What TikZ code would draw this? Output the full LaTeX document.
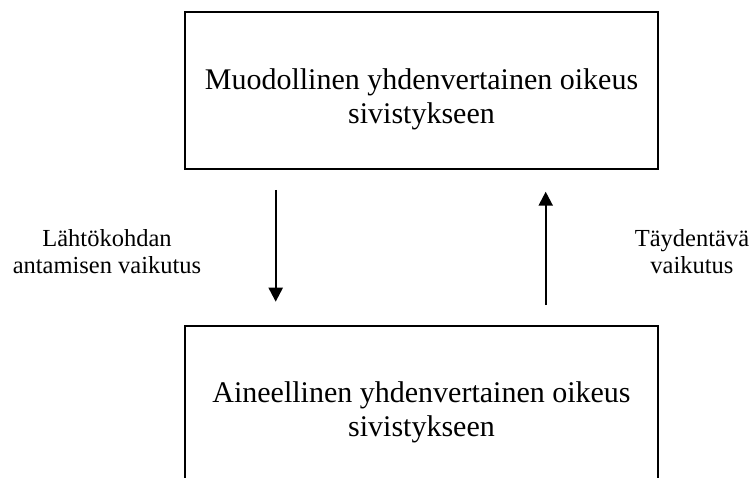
\documentclass[tikz,border=0pt]{standalone}
\usepackage{fontspec}
\setmainfont{Liberation Serif}
\usetikzlibrary{arrows.meta}
\begin{document}
\begin{tikzpicture}[x=1pt,y=-1pt,
  box/.style={draw, line width=2pt, minimum width=473pt, minimum height=157pt, inner sep=0pt},
  boxtext/.style={font=\fontsize{30}{34}\selectfont, align=center, anchor=base, inner sep=0pt},
  sidetext/.style={font=\fontsize{24.5}{27.5}\selectfont, align=center, anchor=base, inner sep=0pt},
  flow/.style={line width=2.2pt, -{Triangle[width=14pt,length=14pt]}}]
  \useasboundingbox (0,0) rectangle (752,478);
  \clip (0,0) rectangle (752,478);

  % the two levels of the right to education (base = last line)
  \node[box] (formal) at (421.5,90.5) {};
  \node[boxtext] (formaltext) at (421.5,123.3) {Muodollinen yhdenvertainen oikeus\\sivistykseen};
  \node[box] (material) at (421.5,404.2) {};
  \node[boxtext] (materialtext) at (421.5,436.7) {Aineellinen yhdenvertainen oikeus\\sivistykseen};

  % effects between the levels
  \coordinate (downstart) at (275.7,190);
  \coordinate (downend) at (275.7,301.7);
  \coordinate (upstart) at (545.7,305);
  \coordinate (upend) at (545.7,191.7);
  \draw[flow] (downstart) -- (downend);
  \draw[flow] (upstart) -- (upend);

  \node[sidetext] (startlabel) at (107,274) {Lähtökohdan\\antamisen vaikutus};
  \node[sidetext] (complabel) at (692,274) {Täydentävä\\vaikutus};
\end{tikzpicture}
\end{document}
